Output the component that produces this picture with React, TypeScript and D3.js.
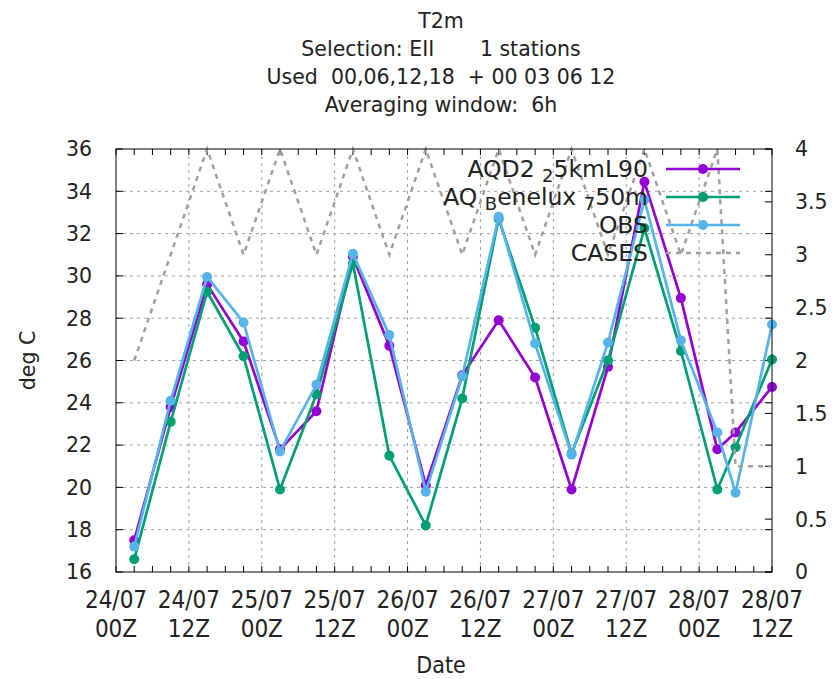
import { useEffect, useRef } from "react"
import * as d3 from "d3"

// hours after 24/07 00Z
const hours = [3, 9, 15, 21, 27, 33, 39, 45, 51, 57, 63, 69, 75, 81, 87, 93, 99, 102, 108]

const aqd2 = [17.5, 23.8, 29.6, 26.9, 21.8, 23.6, 30.9, 26.7, 20.1, 25.3, 27.9, 25.2, 19.9, 25.7, 34.45, 28.95, 21.8, 22.6, 24.75]
const benelux = [16.6, 23.1, 29.25, 26.2, 19.9, 24.4, 30.6, 21.5, 18.2, 24.2, 32.7, 27.55, 21.6, 26.0, 32.25, 26.45, 19.9, 21.9, 26.05]
const obs = [17.2, 24.1, 29.95, 27.8, 21.7, 24.85, 31.05, 27.2, 19.8, 25.25, 32.8, 26.8, 21.55, 26.85, 33.6, 26.95, 22.6, 19.75, 27.7]
const cases = [2, 3, 4, 3, 4, 3, 4, 3, 4, 3, 4, 3, 4, 3, 4, 3, 4, 1, 1]

const xTickHours = [0, 12, 24, 36, 48, 60, 72, 84, 96, 108]
const xTickDates = ["24/07", "24/07", "25/07", "25/07", "26/07", "26/07", "27/07", "27/07", "28/07", "28/07"]
const xTickTimes = ["00Z", "12Z", "00Z", "12Z", "00Z", "12Z", "00Z", "12Z", "00Z", "12Z"]
const yTicks = [16, 18, 20, 22, 24, 26, 28, 30, 32, 34, 36]
const y2Ticks = [0, 0.5, 1, 1.5, 2, 2.5, 3, 3.5, 4]

const titleLines = [
    "T2m",
    "Selection: EII       1 stations",
    "Used  00,06,12,18  + 00 03 06 12",
    "Averaging window:  6h",
]

const series = [
    { label: [["AQD2 ", false], ["2", true], ["5kmL90", false]], values: aqd2, color: "#9400d3" },
    { label: [["AQ ", false], ["B", true], ["enelux ", false], ["7", true], ["50m", false]], values: benelux, color: "#009e73" },
    { label: [["OBS", false]], values: obs, color: "#56b4e9" },
]

const WIDTH = 835
const HEIGHT = 679
const FONT = "'DejaVu Sans', sans-serif"
const COND = "'DejaVu Sans Condensed', 'DejaVu Sans', sans-serif"

export default function App() {
    const ref = useRef<SVGSVGElement | null>(null)

    useEffect(() => {
        const svg = d3.select(ref.current)
        svg.selectAll("*").remove()

        const margin = { top: 149, right: 63, bottom: 107, left: 116 }
        const innerW = WIDTH - margin.left - margin.right
        const innerH = HEIGHT - margin.top - margin.bottom

        const x = d3.scaleLinear().domain([0, 108]).range([0, innerW])
        const y = d3.scaleLinear().domain([16, 36]).range([innerH, 0])
        const y2 = d3.scaleLinear().domain([0, 4]).range([innerH, 0])

        svg.append("rect").attr("width", WIDTH).attr("height", HEIGHT).attr("fill", "white")

        // title
        svg.append("g")
            .selectAll("text")
            .data(titleLines)
            .join("text")
            .attr("x", 441)
            .attr("y", (_, i) => 28 + i * 28)
            .attr("text-anchor", "middle")
            .attr("font-family", FONT)
            .attr("font-size", 20.5)
            .attr("fill", "#222")
            .style("white-space", "pre")
            .text(d => d)

        const g = svg.append("g").attr("transform", `translate(${margin.left},${margin.top})`)

        // grid
        const grid = g.append("g")
            .attr("stroke", "#a0a0a0")
            .attr("stroke-width", 1)
            .attr("stroke-dasharray", "3,4")
        grid.selectAll("line.gx")
            .data(xTickHours.slice(1, -1))
            .join("line")
            .attr("x1", d => x(d)).attr("x2", d => x(d))
            .attr("y1", 0).attr("y2", innerH)
        grid.selectAll("line.gy")
            .data(yTicks.slice(1, -1))
            .join("line")
            .attr("class", "gy")
            .attr("x1", 0).attr("x2", innerW)
            .attr("y1", d => y(d)).attr("y2", d => y(d))

        // ticks
        const ticks = g.append("g").attr("stroke", "#000").attr("stroke-width", 1)
        const minor = d3.range(0, 109, 3)
        ticks.selectAll("line.tb")
            .data(minor)
            .join("line")
            .attr("class", "tb")
            .attr("x1", d => x(d)).attr("x2", d => x(d))
            .attr("y1", innerH).attr("y2", innerH - 6)
        ticks.selectAll("line.tt")
            .data(minor)
            .join("line")
            .attr("class", "tt")
            .attr("x1", d => x(d)).attr("x2", d => x(d))
            .attr("y1", 0).attr("y2", 6)
        ticks.selectAll("line.tl")
            .data(yTicks)
            .join("line")
            .attr("class", "tl")
            .attr("x1", 0).attr("x2", 7)
            .attr("y1", d => y(d)).attr("y2", d => y(d))
        ticks.selectAll("line.tr")
            .data(yTicks)
            .join("line")
            .attr("class", "tr")
            .attr("x1", innerW).attr("x2", innerW - 7)
            .attr("y1", d => y(d)).attr("y2", d => y(d))
        ticks.selectAll("line.tr2")
            .data(y2Ticks)
            .join("line")
            .attr("class", "tr2")
            .attr("x1", innerW).attr("x2", innerW - 7)
            .attr("y1", d => y2(d)).attr("y2", d => y2(d))

        // tick labels
        g.append("g")
            .selectAll("text")
            .data(yTicks)
            .join("text")
            .attr("x", -24)
            .attr("y", d => y(d))
            .attr("dy", "0.36em")
            .attr("text-anchor", "end")
            .attr("font-family", FONT)
            .attr("font-size", 20.5)
            .attr("fill", "#222")
            .text(d => d)
        g.append("g")
            .selectAll("text")
            .data(y2Ticks)
            .join("text")
            .attr("x", innerW + 23)
            .attr("y", d => y2(d))
            .attr("dy", "0.36em")
            .attr("font-family", FONT)
            .attr("font-size", 20.5)
            .attr("fill", "#222")
            .text(d => d)
        const xl = g.append("g")
            .attr("font-family", COND)
            .attr("font-size", 24)
            .attr("fill", "#222")
            .attr("text-anchor", "middle")
        xl.selectAll("text.d")
            .data(xTickHours)
            .join("text")
            .attr("class", "d")
            .attr("x", d => x(d))
            .attr("y", innerH + 36)
            .text((_, i) => xTickDates[i])
        xl.selectAll("text.t")
            .data(xTickHours)
            .join("text")
            .attr("class", "t")
            .attr("x", d => x(d))
            .attr("y", innerH + 65)
            .text((_, i) => xTickTimes[i])

        // axis labels
        svg.append("text")
            .attr("x", 441)
            .attr("y", 673)
            .attr("text-anchor", "middle")
            .attr("font-family", COND)
            .attr("font-size", 23)
            .attr("fill", "#222")
            .text("Date")
        svg.append("text")
            .attr("transform", `translate(35,${margin.top + innerH / 2}) rotate(-90)`)
            .attr("text-anchor", "middle")
            .attr("font-family", FONT)
            .attr("font-size", 20.5)
            .attr("fill", "#222")
            .text("deg C")

        // legend
        const legendRows = [...series.map(s => ({ label: s.label, color: s.color, dashed: false })),
            { label: [["CASES", false]], color: "#a0a0a0", dashed: true }]
        const leg = svg.append("g")
        legendRows.forEach((row, i) => {
            const cy = 169 + i * 28
            const t = leg.append("text")
                .attr("x", 648)
                .attr("y", cy + 8)
                .attr("text-anchor", "end")
                .attr("font-family", FONT)
                .attr("font-size", 23.5)
                .attr("fill", "#222")
                .style("white-space", "pre")
            let shifted = false
            row.label.forEach(([txt, sub]) => {
                const span = t.append("tspan").text(txt as string)
                if (sub && !shifted) {
                    span.attr("dy", 5).attr("font-size", 18)
                    shifted = true
                } else if (!sub && shifted) {
                    span.attr("dy", -5)
                    shifted = false
                }
            })
            leg.append("line")
                .attr("x1", 666).attr("x2", 740)
                .attr("y1", cy).attr("y2", cy)
                .attr("stroke", row.color)
                .attr("stroke-width", 2.7)
                .attr("stroke-dasharray", row.dashed ? "5,5" : null)
            if (!row.dashed) {
                leg.append("circle")
                    .attr("cx", 703).attr("cy", cy).attr("r", 5)
                    .attr("fill", row.color)
            }
        })

        // series
        const line = d3.line<number>()
            .x((_, i) => x(hours[i]))
            .y(d => y(d))
        series.forEach(s => {
            g.append("path")
                .datum(s.values)
                .attr("fill", "none")
                .attr("stroke", s.color)
                .attr("stroke-width", 2.7)
                .attr("stroke-linejoin", "round")
                .attr("d", line)
            g.append("g")
                .selectAll("circle")
                .data(s.values)
                .join("circle")
                .attr("cx", (_, i) => x(hours[i]))
                .attr("cy", d => y(d))
                .attr("r", 5)
                .attr("fill", s.color)
        })

        const caseLine = d3.line<number>()
            .x((_, i) => x(hours[i]))
            .y(d => y2(d))
        g.append("path")
            .datum(cases)
            .attr("fill", "none")
            .attr("stroke", "#a0a0a0")
            .attr("stroke-width", 2.5)
            .attr("stroke-dasharray", "5,5")
            .attr("d", caseLine)

        // frame
        g.append("rect")
            .attr("width", innerW)
            .attr("height", innerH)
            .attr("fill", "none")
            .attr("stroke", "#000")
            .attr("stroke-width", 1)
    }, [])

    return (
        <svg
            ref={ref}
            width={WIDTH}
            height={HEIGHT}
            style={{ position: "absolute", left: 0, top: 0, display: "block" }}
        />
    )
}
